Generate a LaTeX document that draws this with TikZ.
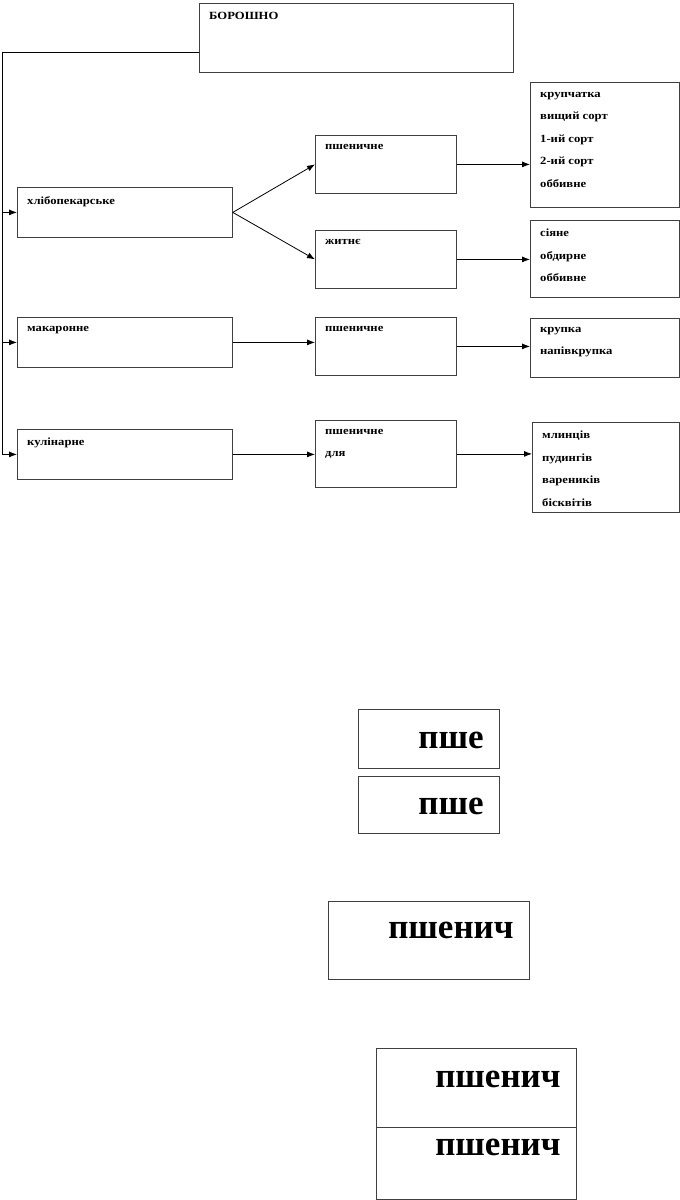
\documentclass[tikz,border=0pt]{standalone}
\usepackage{fontspec}
\setmainfont{Liberation Serif}
\newfontfamily\boxfont[FakeStretch=1.15]{Liberation Serif}
\usetikzlibrary{arrows.meta}

\tikzset{
  box/.style={draw=black!75, line width=0.8pt, rectangle, inner sep=0pt, anchor=north west},
  lbl/.style={anchor=north west, inner sep=0pt, xshift=10pt, yshift=-9pt, align=left,
    font=\boxfont\bfseries\fontsize{11}{22.5}\selectfont},
  big/.style={anchor=base east, inner sep=0pt, xshift=-16pt,
    font=\bfseries\fontsize{35}{42}\selectfont},
  arr/.style={-{Latex[length=8pt,width=6pt]}, line width=0.8pt},
}

\begin{document}
\begin{tikzpicture}[x=1pt, y=-1pt]
\useasboundingbox (0,0) rectangle (680,1200);

% Top box
\node[box, minimum width=314pt, minimum height=69pt,
  label={[lbl]north west:БОРОШНО}] (flour) at (199,3) {};

% First column: kinds of flour
\node[box, minimum width=215pt, minimum height=50pt,
  label={[lbl]north west:хлібопекарське}] (bread) at (17,187) {};
\node[box, minimum width=215pt, minimum height=50pt,
  label={[lbl]north west:макаронне}] (pasta) at (17,317) {};
\node[box, minimum width=215pt, minimum height=50pt,
  label={[lbl]north west:кулінарне}] (culin) at (17,429) {};

% Second column: grain
\node[box, minimum width=141pt, minimum height=58pt,
  label={[lbl]north west:пшеничне}] (wheatA) at (315,135) {};
\node[box, minimum width=141pt, minimum height=58pt,
  label={[lbl]north west:житнє}] (rye) at (315,230) {};
\node[box, minimum width=141pt, minimum height=58pt,
  label={[lbl]north west:пшеничне}] (wheatB) at (315,317) {};
\node[box, minimum width=141pt, minimum height=67pt,
  label={[lbl]north west:{пшеничне\\для}}] (wheatC) at (315,420) {};

% Third column: sorts
\node[box, minimum width=149pt, minimum height=125pt,
  label={[lbl, yshift=-1pt]north west:{крупчатка\\вищий сорт\\1-ий сорт\\2-ий сорт\\оббивне}}] (sortsA) at (530,82) {};
\node[box, minimum width=149pt, minimum height=77pt,
  label={[lbl]north west:{сіяне\\обдирне\\оббивне}}] (sortsB) at (530,220) {};
\node[box, minimum width=149pt, minimum height=59pt,
  label={[lbl]north west:{крупка\\напівкрупка}}] (grits) at (530,318) {};
\node[box, minimum width=147pt, minimum height=90pt,
  label={[lbl]north west:{млинців\\пудингів\\вареників\\бісквітів}}] (dishes) at (532,422) {};

% Left spine from the top box
\coordinate (hub) at (2,52);
\draw[line width=0.8pt] (hub -| flour.west) -- (hub) -- (hub |- culin.west);
\foreach \n in {bread,pasta,culin}
  \draw[arr] (hub |- \n.west) -- (\n.west);

% Arrows between columns
\draw[arr] (bread.east) -- (wheatA.west);
\draw[arr] (bread.east) -- (rye.west);
\draw[arr] (pasta.east) -- (pasta.east -| wheatB.west);
\draw[arr] (culin.east) -- (culin.east -| wheatC.west);
\draw[arr] (wheatA.east) -- (wheatA.east -| sortsA.west);
\draw[arr] (rye.east) -- (rye.east -| sortsB.west);
\draw[arr] (wheatB.east) -- (wheatB.east -| grits.west);
\draw[arr] (wheatC.east) -- (wheatC.east -| dishes.west);

% Loose boxes below
\node[box, minimum width=141pt, minimum height=59pt,
  label={[big, yshift=-39pt]north east:пше}] (partA) at (358,709) {};
\node[box, minimum width=141pt, minimum height=57pt,
  label={[big, yshift=-38pt]north east:пше}] (partB) at (358,776) {};
\node[box, minimum width=201pt, minimum height=78pt,
  label={[big, yshift=-37pt]north east:пшенич}] (partC) at (328,901) {};
\node[box, minimum width=200pt, minimum height=79pt,
  label={[big, yshift=-39pt]north east:пшенич}] (partD) at (376,1048) {};
\node[box, minimum width=200pt, minimum height=72pt,
  label={[big, yshift=-28pt]north east:пшенич}] (partE) at (376,1127) {};

\end{tikzpicture}
\end{document}
